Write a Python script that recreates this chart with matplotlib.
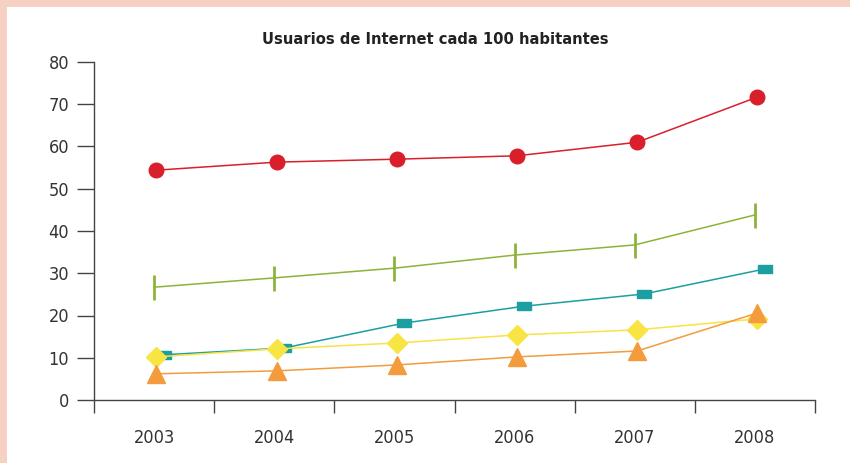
''' Usuarios de Internet cada 100 habitantes, 2003-2008. '''

import numpy as np
import matplotlib.pyplot as plt
from matplotlib.patches import Rectangle
from matplotlib.path import Path

YEARS = ['2003', '2004', '2005', '2006', '2007', '2008']

RED = [54.4, 56.3, 57.0, 57.8, 61.0, 71.7]
GREEN = [26.7, 28.9, 31.2, 34.3, 36.7, 43.8]
TEAL = [10.7, 12.3, 18.2, 22.2, 25.1, 31.0]
YELLOW = [10.2, 12.1, 13.5, 15.4, 16.6, 19.2]
ORANGE = [6.2, 6.9, 8.3, 10.2, 11.6, 20.6]

plt.rcParams['font.family'] = ['Liberation Sans Narrow', 'DejaVu Sans']
plt.rcParams['font.stretch'] = 'condensed'

# flat rectangle marker for the teal series
RECT = Path([(-1, -0.6), (1, -0.6), (1, 0.6), (-1, 0.6), (-1, -0.6)],
            [Path.MOVETO, Path.LINETO, Path.LINETO, Path.LINETO, Path.CLOSEPOLY])

fig = plt.figure(figsize=(8.5, 4.63), dpi=100, facecolor='white')
PINK = '#F6D0C3'
fig.patches.append(Rectangle((0, 1 - 7 / 463), 1, 7 / 463, transform=fig.transFigure,
                             facecolor=PINK, edgecolor='none'))
fig.patches.append(Rectangle((0, 0), 7 / 850, 1, transform=fig.transFigure,
                             facecolor=PINK, edgecolor='none'))

ax = fig.add_axes([94 / 850, 1 - 400 / 463, (815 - 94) / 850, (400 - 62) / 463])
ax.set_facecolor('none')

x = np.arange(len(YEARS)) + 0.5

# (values, colour, x shift, marker style)
series = [
    (RED, '#D81F2A', 0.02, dict(marker='o', ms=10.5)),
    (GREEN, '#8DB33A', 0.0, dict(marker='|', ms=18, mew=2)),
    (TEAL, '#1C9FA0', 0.08, dict(marker=RECT, ms=10)),
    (YELLOW, '#F8E443', 0.02, dict(marker='D', ms=10)),
    (ORANGE, '#F39B3D', 0.02, dict(marker='^', ms=13)),
]
for values, color, shift, style in series:
    ax.plot(x + shift, values, color=color, linewidth=1.1, mfc=color, mec=color,
            clip_on=False, **style)

ax.set_xlim(0, len(YEARS))
ax.set_ylim(0, 80)
ax.set_yticks(range(0, 81, 10))
ax.set_xticks(range(len(YEARS) + 1))
ax.set_xticklabels([])
ax.set_xticks(x, minor=True)
ax.set_xticklabels(YEARS, minor=True)

ax.tick_params(axis='y', direction='out', length=12, width=1, color='#444444',
               labelsize=13, labelcolor='#333333', pad=6)
ax.tick_params(axis='x', which='major', direction='out', length=9, width=1, color='#444444')
ax.tick_params(axis='x', which='minor', length=0, labelsize=13, labelcolor='#333333', pad=21)

for side in ('top', 'right'):
    ax.spines[side].set_visible(False)
for side in ('left', 'bottom'):
    ax.spines[side].set_color('#444444')
    ax.spines[side].set_linewidth(1)

fig.text(435 / 850, 1 - 39 / 463, 'Usuarios de Internet cada 100 habitantes',
         ha='center', va='center', fontsize=11.8, fontweight='bold', color='#222222')

fig.savefig('out.png', dpi=100)
